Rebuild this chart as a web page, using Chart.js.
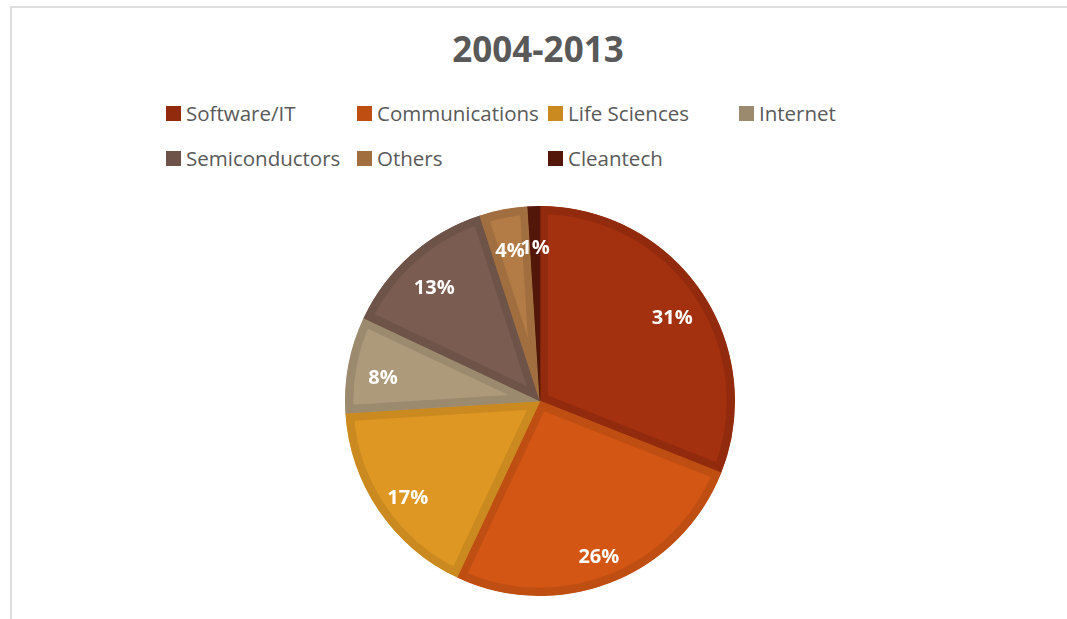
<!DOCTYPE html>
<html>
<head>
<meta charset="utf-8">
<script src="https://cdn.jsdelivr.net/npm/chart.js@4"></script>
<style>
  html, body { margin: 0; padding: 0; background: #fff; }
  body { width: 1067px; height: 619px; position: relative; overflow: hidden; font-family: "Open Sans", sans-serif; }
  #frame { position: absolute; left: 10px; top: 6px; right: -4px; bottom: -4px; border: 2px solid #dedede; }
  #title { position: absolute; left: 0; width: 1076px; top: 31px; text-align: center; font-weight: bold; font-size: 35px; line-height: 1; color: #595959; }
  #legend { position: absolute; left: 166px; top: 101px; display: grid; grid-template-columns: repeat(4, 191px); grid-auto-rows: 24px; row-gap: 21px; }
  .item { display: flex; align-items: center; font-size: 20.5px; line-height: 24px; color: #595959; white-space: nowrap; }
  .swatch { width: 15px; height: 15px; margin-right: 5px; flex: none; }
  canvas { position: absolute; left: 0; top: 0; }
</style>
</head>
<body>
<div id="frame"></div>
<div id="title">2004-2013</div>
<div id="legend"></div>
<canvas id="pie" width="1067" height="619"></canvas>
<script>
// sector shares, percent
const sectors = ["Software/IT", "Communications", "Life Sciences", "Internet", "Semiconductors", "Others", "Cleantech"];
const shares = [31, 26, 17, 8, 13, 4, 1];

const fills = ["#a3300f", "#d35615", "#dd9722", "#ad9a7b", "#7b5c51", "#b37b45", "#5c1a0b"];
const edges = ["#922a0d", "#bf4e13", "#ca8a20", "#9c8a6e", "#6e5349", "#a06e3f", "#521709"];

// legend laid out in fixed columns
const legend = document.getElementById("legend");
sectors.forEach((name, i) => {
  const item = document.createElement("div");
  item.className = "item";
  const sw = document.createElement("span");
  sw.className = "swatch";
  sw.style.background = edges[i];
  item.appendChild(sw);
  item.appendChild(document.createTextNode(name));
  legend.appendChild(item);
});

// percent labels inside each slice
const sliceLabels = {
  id: "sliceLabels",
  afterDatasetsDraw(chart) {
    const ctx = chart.ctx;
    const meta = chart.getDatasetMeta(0);
    ctx.save();
    ctx.fillStyle = "#ffffff";
    ctx.font = "bold 20px 'Open Sans'";
    ctx.textAlign = "center";
    ctx.textBaseline = "alphabetic";
    meta.data.forEach((arc, i) => {
      const p = arc.getProps(["x", "y", "startAngle", "endAngle", "outerRadius"], true);
      const mid = (p.startAngle + p.endAngle) / 2;
      const r = p.outerRadius * 0.82;
      // baseline sits half a cap height below the anchor point
      ctx.fillText(shares[i] + "%", p.x + Math.cos(mid) * r, p.y + Math.sin(mid) * r + 13);
    });
    ctx.restore();
  }
};

new Chart(document.getElementById("pie"), {
  type: "pie",
  data: {
    labels: sectors,
    datasets: [{
      data: shares,
      backgroundColor: fills,
      borderColor: edges,
      borderWidth: 8,
      borderAlign: "inner",
      borderJoinStyle: "miter",
      hoverOffset: 0,
      offset: 0
    }]
  },
  options: {
    responsive: false,
    animation: false,
    events: [],
    layout: { padding: { top: 206, bottom: 23, left: 13, right: 0 } },
    plugins: {
      legend: { display: false },
      title: { display: false },
      tooltip: { enabled: false }
    }
  },
  plugins: [sliceLabels]
});
</script>
</body>
</html>
